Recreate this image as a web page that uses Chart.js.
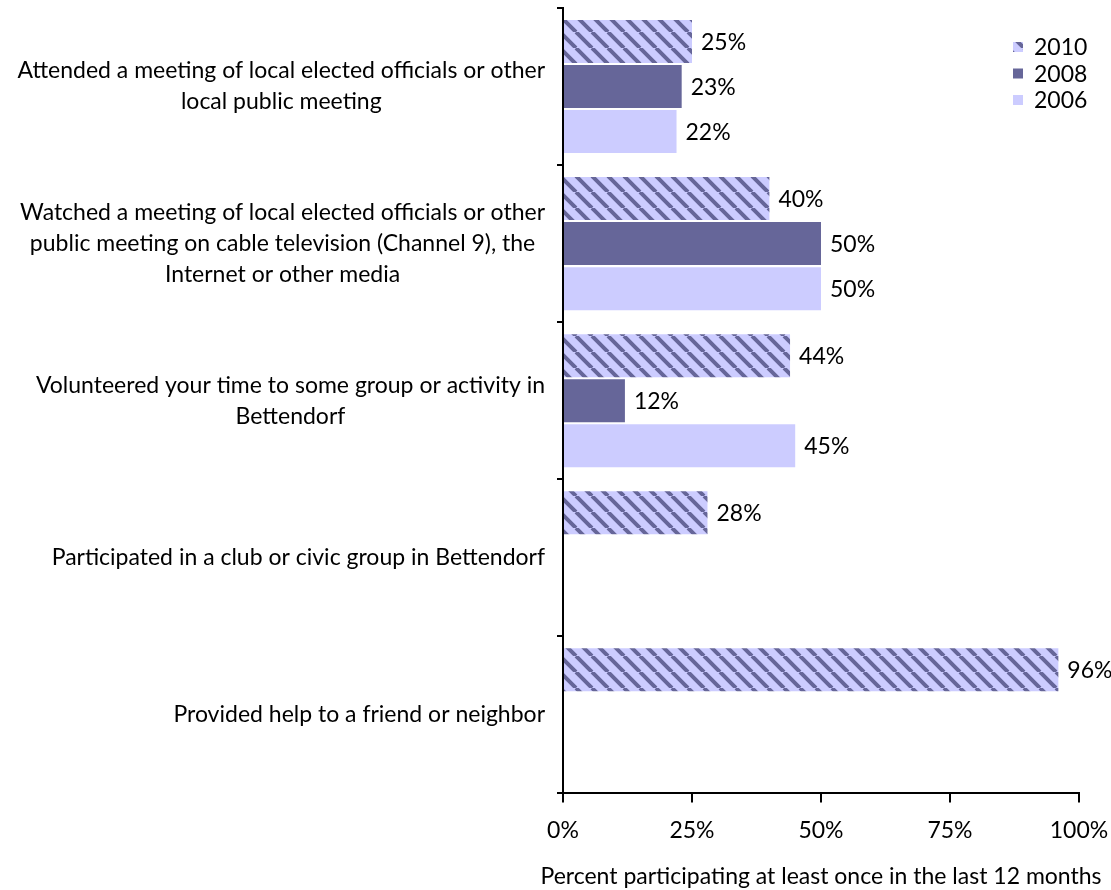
<!DOCTYPE html>
<html>
<head>
<meta charset="utf-8">
<script src="https://cdn.jsdelivr.net/npm/chart.js@4.4.0/dist/chart.umd.min.js"></script>
<style>
  html, body { margin: 0; padding: 0; background: #fff; }
  #wrap { width: 1111px; height: 890px; }
</style>
</head>
<body>
<div id="wrap"><canvas id="myChart" width="1111" height="890"></canvas></div>
<script>
const categories = [
    ['Attended a meeting of local elected officials or other', 'local public meeting'],
    ['Watched a meeting of local elected officials or other', 'public meeting on cable television (Channel 9), the', 'Internet or other media'],
    ['Volunteered your time to some group or activity in', 'Bettendorf'],
    ['Participated in a club or civic group in Bettendorf'],
    ['Provided help to a friend or neighbor']
];
const years = ['2010', '2008', '2006'];
const values2010 = [25, 40, 44, 28, 96];
const values2008 = [23, 50, 12, null, null];
const values2006 = [22, 50, 45, null, null];
const xTicks = [0, 25, 50, 75, 100];
const xTitle = 'Percent participating at least once in the last 12 months';

const FONT = 'Lato, "Open Sans", sans-serif';
const FS = 23;
const dark = '#666699';
const light = '#ccccff';

// diagonal hatch used for 2010
function makeHatch() {
    const s = 16;
    const c = document.createElement('canvas');
    c.width = s; c.height = s;
    const g = c.getContext('2d');
    g.fillStyle = light;
    g.fillRect(0, 0, s, s);
    g.strokeStyle = dark;
    g.lineWidth = 4;
    g.beginPath();
    for (let k = -1; k <= 1; k++) {
        g.moveTo(k * s, 0);
        g.lineTo(k * s + s, s);
    }
    g.stroke();
    return g.createPattern(c, 'repeat');
}
const hatch = makeHatch();

const valueLabels = {
    id: 'valueLabels',
    afterDatasetsDraw(chart) {
        const ctx = chart.ctx;
        ctx.save();
        ctx.font = FS + 'px ' + FONT;
        ctx.fillStyle = '#000';
        ctx.textBaseline = 'middle';
        ctx.textAlign = 'left';
        chart.data.datasets.forEach((ds, i) => {
            chart.getDatasetMeta(i).data.forEach((bar, j) => {
                const v = ds.data[j];
                if (v === null || v === undefined) return;
                ctx.fillText(v + '%', bar.x + 9, bar.y + 1);
            });
        });
        ctx.restore();
    }
};

// category labels: block right-aligned, lines centred within block; axis title below
const textLayer = {
    id: 'textLayer',
    afterDraw(chart) {
        const ctx = chart.ctx;
        const yScale = chart.scales.y;
        const xScale = chart.scales.x;
        const right = 545;
        const lh = 31;
        ctx.save();
        ctx.font = FS + 'px ' + FONT;
        ctx.fillStyle = '#000';
        ctx.textBaseline = 'middle';
        ctx.textAlign = 'center';
        categories.forEach((lines, i) => {
            const w = Math.max(...lines.map(l => ctx.measureText(l).width));
            const cx = right - w / 2;
            const cy = yScale.getPixelForValue(i);
            const y0 = cy - (lines.length - 1) * lh / 2;
            lines.forEach((l, k) => ctx.fillText(l, cx, y0 + k * lh));
        });
        ctx.fillText(xTitle, (xScale.left + xScale.right) / 2, 877);
        ctx.restore();
    }
};

const sideLegend = {
    id: 'sideLegend',
    afterDraw(chart) {
        const ctx = chart.ctx;
        ctx.save();
        ctx.font = FS + 'px ' + FONT;
        ctx.textBaseline = 'middle';
        ctx.textAlign = 'left';
        chart.data.datasets.forEach((ds, i) => {
            const y = 47 + i * 26.5;
            ctx.fillStyle = ds.backgroundColor;
            ctx.fillRect(1013, y - 5, 10, 10);
            ctx.fillStyle = '#000';
            ctx.fillText(ds.label, 1034, y + 1);
        });
        ctx.restore();
    }
};

const ctx = document.getElementById('myChart').getContext('2d');
const myChart = new Chart(ctx, {
    type: 'bar',
    data: {
        labels: categories.map(c => c.join(' ')),
        datasets: [
            { label: years[0], data: values2010, backgroundColor: hatch },
            { label: years[1], data: values2008, backgroundColor: dark },
            { label: years[2], data: values2006, backgroundColor: light }
        ]
    },
    options: {
        indexAxis: 'y',
        responsive: false,
        animation: false,
        categoryPercentage: 0.86,
        barPercentage: 0.955,
        layout: { padding: { left: 557, top: 8, right: 0, bottom: 32 } },
        plugins: {
            legend: { display: false },
            tooltip: { enabled: false }
        },
        scales: {
            x: {
                min: 0,
                max: 100,
                afterBuildTicks(scale) {
                    scale.ticks = xTicks.map(v => ({ value: v }));
                },
                afterFit(scale) {
                    scale.paddingRight = 32;
                },
                border: { color: '#000', width: 2 },
                grid: { drawOnChartArea: false, drawTicks: true, tickLength: 9, color: '#000', lineWidth: 2 },
                ticks: {
                    color: '#000',
                    font: { family: FONT, size: FS },
                    padding: 14,
                    maxRotation: 0,
                    callback: v => v + '%'
                }
            },
            y: {
                offset: true,
                border: { color: '#000', width: 2 },
                grid: { offset: true, drawOnChartArea: false, drawTicks: true, tickLength: 6, color: '#000', lineWidth: 2 },
                ticks: { display: false }
            }
        }
    },
    plugins: [valueLabels, textLayer, sideLegend]
});
</script>
</body>
</html>
